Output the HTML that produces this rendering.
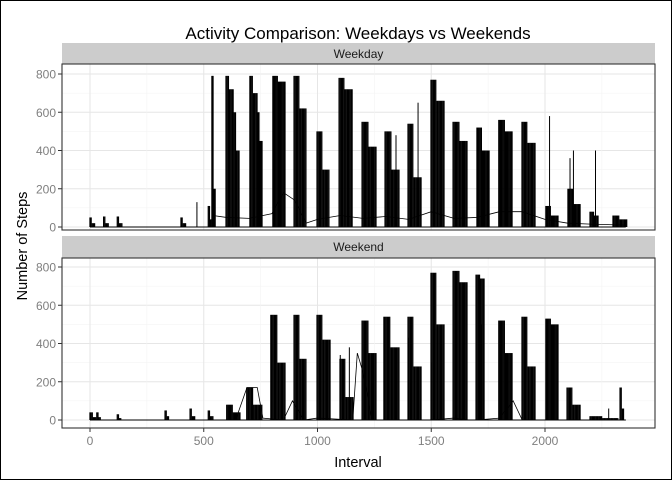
<!DOCTYPE html>
<html><head><meta charset="utf-8">
<style>
body{margin:0;background:#fff}
svg{display:block;font-family:"Liberation Sans",sans-serif}
</style></head><body>
<svg id="c" width="672" height="480" viewBox="0 0 672 480"></svg>
<script>
// data
const xTicks=[0,500,1000,1500,2000];
const yTicks=[0,200,400,600,800];
const panelNames=["Weekday","Weekend"];
const wdStart=[0,60,120,400,520,536,598,629,703,738,804,897,998,1095,1196,1297,1398,1499,1596,1701,1797,1899,2004,2101,2198,2299];
const wdEnd  =[20,80,140,420,535,550,629,655,734,756,857,949,1050,1152,1257,1358,1455,1556,1657,1754,1855,1956,2057,2154,2233,2359];
const wdPeak =[50,55,55,50,110,790,790,600,790,600,790,790,500,780,550,500,540,770,550,520,560,550,110,200,80,60];
const wdTail =[20,20,20,20,40,200,720,400,700,450,760,620,300,720,420,300,260,660,450,400,500,440,60,120,60,40];
const wdSpikeX=[470,1345,1442,2020,2110,2125,2222];
const wdSpikeY=[130,480,650,580,360,400,400];
const weStart=[0,30,120,330,440,520,601,689,795,897,998,1099,1196,1292,1398,1499,1596,1697,1797,1899,2004,2097,2198,2330];
const weEnd  =[25,45,135,345,460,540,659,755,857,949,1055,1156,1257,1358,1455,1556,1657,1732,1855,1956,2057,2154,2320,2345];
const wePeak =[40,40,30,50,60,50,80,170,550,550,550,320,520,540,540,770,780,760,520,540,530,170,20,170];
const weTail =[15,15,10,20,20,20,40,80,300,320,420,120,350,380,280,500,720,740,350,280,500,80,10,60];
const weSpikeX=[1100,1140,1400,1500,1720,1930,2280];
const weSpikeY=[340,380,430,300,500,210,60];
const wdMeanX=[540,600,700,800,850,900,950,1000,1100,1200,1300,1400,1500,1600,1700,1800,1900,2000,2100,2200,2355];
const wdMeanY=[60,50,45,70,180,140,20,40,60,45,55,40,80,45,50,80,80,40,20,15,10];
const weMeanX=[400,640,690,735,760,850,890,940,1000,1155,1175,1200,1240,1260,1380,1400,1500,1600,1660,1700,1800,1860,1900,1980,2100,2355];
const weMeanY=[0,0,170,170,10,0,100,0,10,0,350,250,0,0,0,0,0,10,0,0,10,100,0,0,0,0];

const NS="http://www.w3.org/2000/svg";
const svg=document.getElementById('c');
function mk(t,a,p){const e=document.createElementNS(NS,t);for(const k in a)e.setAttribute(k,a[k]);(p||svg).appendChild(e);return e;}
const X0=62,X1=655;
const xs=v=>90+v*0.2275;
const panels=[{top:64,bot:230,strip:43,zero:227},{top:258,bot:428,strip:236,zero:420}];
const ysF=p=>v=>p.zero-v*0.19125;

const bg=mk('rect',{x:0.5,y:0.5,width:671,height:479,fill:'#fff',stroke:'#000'});


const title=mk('text',{x:358,y:39,'text-anchor':'middle','font-size':17,fill:'#000'});
title.textContent='Activity Comparison: Weekdays vs Weekends';



const sets=[
 {s:wdStart,e:wdEnd,p:wdPeak,t:wdTail,sx:wdSpikeX,sy:wdSpikeY,mx:wdMeanX,my:wdMeanY},
 {s:weStart,e:weEnd,p:wePeak,t:weTail,sx:weSpikeX,sy:weSpikeY,mx:weMeanX,my:weMeanY}];

panels.forEach((P,i)=>{
 const ys=ysF(P);const d=sets[i];
 const g=mk('g',{});
 
 
 const st=mk('rect',{x:X0,y:P.strip,width:X1-X0,height:P.top-P.strip,fill:'#cccccc'},g);
 
 
 const stt=mk('text',{x:(X0+X1)/2,y:P.strip+15,'text-anchor':'middle','font-size':12,fill:'#1a1a1a'},g);
 stt.textContent=panelNames[i];
 
 
 for(let k=0;k<yTicks.length;k++){
  const y=ys(yTicks[k]);
  mk('line',{x1:X0,x2:X1,y1:y,y2:y,stroke:'#e6e6e6','stroke-width':1},g);
  if(k<yTicks.length-1){const ym=ys((yTicks[k]+yTicks[k+1])/2);mk('line',{x1:X0,x2:X1,y1:ym,y2:ym,stroke:'#f2f2f2','stroke-width':0.6},g);}
  mk('line',{x1:58,x2:X0,y1:y,y2:y,stroke:'#333'},g);
  const t=mk('text',{x:56,y:y+4.5,'text-anchor':'end','font-size':12,fill:'#7f7f7f'},g);
  t.textContent=yTicks[k];
  
  
 }
 for(let k=0;k<xTicks.length;k++){
  const x=xs(xTicks[k]);
  mk('line',{x1:x,x2:x,y1:P.top,y2:P.bot,stroke:'#e6e6e6'},g);
  const xm=xs(xTicks[k]+250);
  if(xm<X1)mk('line',{x1:xm,x2:xm,y1:P.top,y2:P.bot,stroke:'#f2f2f2','stroke-width':0.6},g);
 }
 // bursts drawn as 5-minute spikes: first half at peak, second half at tail
 for(let k=0;k<d.s.length;k++){
  const n=Math.max(1,Math.round((d.e[k]-d.s[k])/5));
  for(let j=0;j<=n;j++){
   const iv=d.s[k]+(d.e[k]-d.s[k])*j/n;
   const h=(j<=n*0.45)?d.p[k]:d.t[k];
   const l=mk('line',{x1:xs(iv),x2:xs(iv),y1:ys(0),y2:ys(h),stroke:'#000','stroke-width':1.3},g);
   
   
  }
 }
 for(let k=0;k<d.sx.length;k++){
  const l=mk('line',{x1:xs(d.sx[k]),x2:xs(d.sx[k]),y1:ys(0),y2:ys(d.sy[k]),stroke:'#000','stroke-width':1},g);
  
  
 }
 const base=mk('line',{x1:xs(0),x2:xs(2355),y1:ys(0),y2:ys(0),stroke:'#000','stroke-width':1},g);
 
 
 const pts=d.mx.map((v,k)=>xs(v)+','+ys(d.my[k])).join(' ');
 const ml=mk('polyline',{points:pts,fill:'none',stroke:'#000','stroke-width':0.8},g);
 
 
 const fr=mk('rect',{x:X0,y:P.top,width:X1-X0,height:P.bot-P.top,fill:'none',stroke:'#333','stroke-width':1.1},g);
 
 
});
for(let k=0;k<xTicks.length;k++){
 const x=xs(xTicks[k]);
 mk('line',{x1:x,x2:x,y1:428,y2:432,stroke:'#333'});
 const t=mk('text',{x:x,y:445,'text-anchor':'middle','font-size':12,fill:'#7f7f7f'});
 t.textContent=xTicks[k];
 
 
}
const xt=mk('text',{x:358,y:467,'text-anchor':'middle','font-size':14.5,fill:'#000'});
xt.textContent='Interval';


const yt=mk('text',{x:27,y:246,'text-anchor':'middle','font-size':14.5,fill:'#000',transform:'rotate(-90 27 246)'});
yt.textContent='Number of Steps';


</script>
</body></html>
